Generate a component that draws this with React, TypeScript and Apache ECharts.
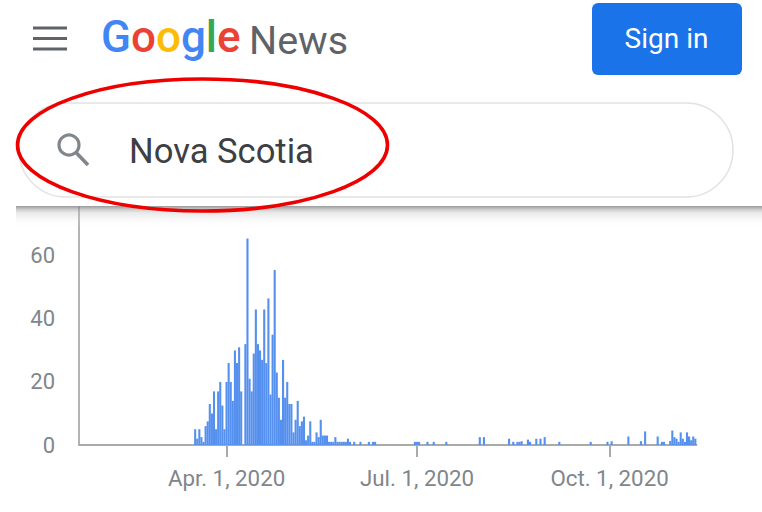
import React, { useEffect, useRef } from "react";
import * as echarts from "echarts";

const firstDay = "2020-01-22";
const dayCount = 295;
const tickDates = ["2020-04-01", "2020-07-01", "2020-10-01"];
const tickLabels = ["Apr. 1, 2020", "Jul. 1, 2020", "Oct. 1, 2020"];
const yTicks = [0, 20, 40, 60];

const springStart = "2020-03-17";
const springValues = [
  5, 2, 5, 2.5, 1, 6, 7.5, 13, 10, 17, 5, 17, 20, 12.5, 5, 20, 26, 20, 14, 30, 26, 31, 17, 0, 32,
  65.5, 21, 17, 29, 43, 32, 30, 27, 43, 26, 46.5, 16, 35, 55.5, 23, 15, 8, 27, 15, 20, 13, 13, 4, 8, 14,
  6, 7.5, 9, 1.5, 3, 7.5, 1, 1, 4, 2.5, 8, 3, 3, 3, 1, 1, 1, 2.5, 1, 1, 1, 1, 1, 2,
];
const laterDates = [
  "2020-05-30", "2020-06-01", "2020-06-04", "2020-06-08", "2020-06-10", "2020-06-11", "2020-06-30", "2020-07-01",
  "2020-07-02", "2020-07-06", "2020-07-09", "2020-07-15", "2020-07-31", "2020-08-02", "2020-08-14", "2020-08-16",
  "2020-08-18", "2020-08-19", "2020-08-20", "2020-08-23", "2020-08-24", "2020-08-27", "2020-08-29", "2020-08-31",
  "2020-09-07", "2020-09-22", "2020-09-30", "2020-10-02", "2020-10-10", "2020-10-16", "2020-10-18", "2020-10-24",
  "2020-10-26", "2020-10-27", "2020-10-30", "2020-10-31", "2020-11-01", "2020-11-02", "2020-11-03", "2020-11-04",
  "2020-11-05", "2020-11-06", "2020-11-07", "2020-11-08", "2020-11-09", "2020-11-10", "2020-11-11",
];
const laterValues = [
  1, 1, 1, 1, 1, 1, 1, 1,
  1, 1, 1, 1, 2.5, 2.5, 2, 1,
  1, 1, 1.2, 1.7, 1, 2, 2, 2.5,
  1, 1, 1, 1.2, 2.7, 1.2, 4.3, 2.7,
  1, 1, 1.3, 4.6, 2.5, 2, 1, 4,
  2, 1, 4, 2.7, 1.5, 2.7, 2,
];

const DAY = 86400000;
const iso = (t: number) => new Date(t).toISOString().slice(0, 10);
const t0 = Date.parse(firstDay + "T00:00:00Z");
const categories: string[] = [];
for (let i = 0; i < dayCount; i++) categories.push(iso(t0 + i * DAY));
const valueByDay = new Map<string, number>();
const springT = Date.parse(springStart + "T00:00:00Z");
springValues.forEach((v, i) => valueByDay.set(iso(springT + i * DAY), v));
laterDates.forEach((d, i) => valueByDay.set(d, laterValues[i]));
const seriesValues = categories.map((d) => valueByDay.get(d) ?? 0);

const GRAY = "#80868b";
const AXIS = "#aaaaaa";
const logoFont = { fontFamily: "Roboto", fontSize: 44, fontWeight: 500 };

export default function App() {
  const ref = useRef<HTMLDivElement>(null);
  useEffect(() => {
    const chart = echarts.init(ref.current!, undefined, { renderer: "svg" });
    chart.setOption({
      animation: false,
      backgroundColor: "#ffffff",
      grid: { left: 79, top: 207, width: 617.4, height: 238, containLabel: false },
      xAxis: {
        type: "category",
        data: categories,
        boundaryGap: true,
        axisLine: { show: true, lineStyle: { color: AXIS, width: 2 } },
        axisTick: {
          show: true,
          alignWithLabel: true,
          length: 12,
          lineStyle: { color: AXIS, width: 2 },
          interval: (_i: number, v: string) => tickDates.includes(v),
        },
        axisLabel: {
          interval: (_i: number, v: string) => tickDates.includes(v),
          formatter: (v: string) => tickLabels[tickDates.indexOf(v)] ?? "",
          color: GRAY,
          fontFamily: "Roboto",
          fontSize: 22.3,
          margin: 22,
        },
      },
      yAxis: {
        type: "value",
        min: 0,
        max: 75.5,
        interval: 20,
        axisLine: { show: true, lineStyle: { color: "#9a9a9a", width: 1.5 } },
        axisTick: { show: false },
        splitLine: { show: false },
        axisLabel: {
          showMaxLabel: false,
          color: GRAY,
          fontFamily: "Roboto",
          fontSize: 22,
          margin: 24,
          formatter: (v: number) => (yTicks.includes(v) ? String(v) : ""),
        },
      },
      series: [
        {
          type: "bar",
          data: seriesValues,
          barWidth: 2.1,
          itemStyle: { color: "#5590ef" },
          silent: true,
        },
      ],
      graphic: [
        // top shadow
        {
          type: "rect",
          z: 50,
          shape: { x: 16, y: 206, width: 746, height: 22 },
          style: {
            fill: new echarts.graphic.LinearGradient(0, 0, 0, 1, [
              { offset: 0, color: "rgba(120,120,120,0.75)" },
              { offset: 0.3, color: "rgba(190,190,190,0.35)" },
              { offset: 1, color: "rgba(255,255,255,0)" },
            ]),
          },
        },
        // hamburger
        ...[28, 38.5, 49].map((y) => ({
          type: "rect",
          z: 60,
          shape: { x: 33, y: y - 1.6, width: 34, height: 3.2 },
          style: { fill: "#5f6368" },
        })),
        // Google wordmark
        {
          type: "text",
          z: 60,
          x: 101,
          y: 59,
          style: {
            text: "{b|G}{r|o}{y|o}{b|g}{g|l}{r|e}",
            verticalAlign: "bottom",
            rich: {
              b: { ...logoFont, fill: "#4285f4" },
              r: { ...logoFont, fill: "#ea4335" },
              y: { ...logoFont, fill: "#fbbc05" },
              g: { ...logoFont, fill: "#34a853" },
            },
          },
        },
        {
          type: "text",
          z: 60,
          x: 249,
          y: 60,
          style: { text: "News", fill: "#5f6368", font: "400 39.5px Roboto", verticalAlign: "bottom" },
        },
        // Sign in
        {
          type: "rect",
          z: 60,
          shape: { x: 592, y: 3, width: 150, height: 72, r: 6 },
          style: { fill: "#1a73e8" },
        },
        {
          type: "text",
          z: 61,
          x: 666.5,
          y: 38,
          style: { text: "Sign in", fill: "#ffffff", font: "400 28px Roboto", align: "center", verticalAlign: "middle" },
        },
        // search box
        {
          type: "rect",
          z: 60,
          shape: { x: 19, y: 103, width: 714, height: 94, r: 47 },
          style: { fill: "#ffffff", stroke: "#e2e2e2", lineWidth: 1.5 },
        },
        {
          type: "circle",
          z: 61,
          shape: { cx: 69, cy: 145, r: 10 },
          style: { fill: "none", stroke: GRAY, lineWidth: 3.2 },
        },
        {
          type: "line",
          z: 61,
          shape: { x1: 76.5, y1: 153, x2: 88, y2: 165 },
          style: { stroke: GRAY, lineWidth: 3.6 },
        },
        {
          type: "text",
          z: 61,
          x: 129,
          y: 168,
          style: { text: "Nova Scotia", fill: "#3c4043", font: "400 34.6px Roboto", verticalAlign: "bottom" },
        },
        // red annotation
        {
          type: "ellipse",
          z: 70,
          shape: { cx: 202.5, cy: 145, rx: 185, ry: 66 },
          style: { fill: "none", stroke: "#ee0000", lineWidth: 3.6 },
        },
      ],
    });
    return () => chart.dispose();
  }, []);
  return <div ref={ref} style={{ position: "fixed", left: 0, top: 0, width: 762, height: 512 }} />;
}
